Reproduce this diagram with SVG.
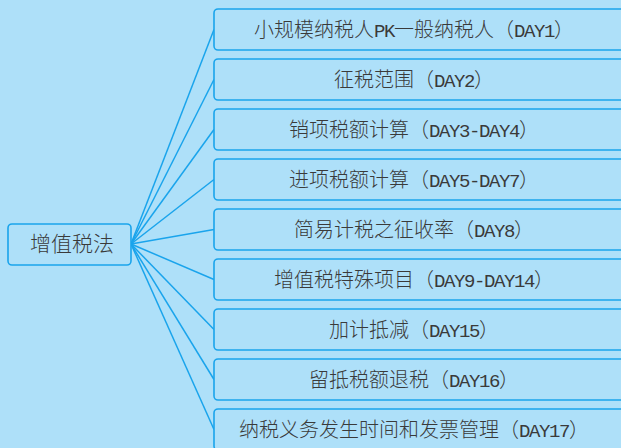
<svg xmlns="http://www.w3.org/2000/svg" width="621" height="448" viewBox="0 0 621 448">
<style>
.bg{fill:#aee0f9}
.box{fill:#aee0f9;stroke:#1aa4ec;stroke-width:1.6}
.ln{stroke:#1aa4ec;stroke-width:1.5;fill:none}
.t{font-family:"Noto Sans CJK SC","Noto Sans",sans-serif;font-size:20px;fill:#3a3a3a;text-anchor:middle;font-weight:300}
.l{font-family:"Liberation Mono",monospace;font-size:19px;letter-spacing:-1.4px;font-weight:normal}
</style>
<rect class="bg" x="0" y="0" width="621" height="448"/>
<g id="connectors">
<line class="ln" x1="131" y1="244" x2="214" y2="29.5"/>
<line class="ln" x1="131" y1="244" x2="214" y2="79.5"/>
<line class="ln" x1="131" y1="244" x2="214" y2="129.5"/>
<line class="ln" x1="131" y1="244" x2="214" y2="179.5"/>
<line class="ln" x1="131" y1="244" x2="214" y2="229.5"/>
<line class="ln" x1="131" y1="244" x2="214" y2="279.5"/>
<line class="ln" x1="131" y1="244" x2="214" y2="329.5"/>
<line class="ln" x1="131" y1="244" x2="214" y2="379.5"/>
<line class="ln" x1="131" y1="244" x2="214" y2="429.5"/>
</g>
<g id="root">
<rect class="box" x="8" y="224" width="123" height="41" rx="4"/>
<text class="t" x="72" y="251" style="font-size:21px">增值税法</text>
</g>
<g id="n1">
<rect class="box" x="214" y="9" width="440" height="41" rx="4"/>
<text class="t" x="414" y="37">小规模纳税人<tspan class="l">PK</tspan>一般纳税人（<tspan class="l">DAY1</tspan>）</text>
</g>
<g id="n2">
<rect class="box" x="214" y="59" width="440" height="41" rx="4"/>
<text class="t" x="414" y="87">征税范围（<tspan class="l">DAY2</tspan>）</text>
</g>
<g id="n3">
<rect class="box" x="214" y="109" width="440" height="41" rx="4"/>
<text class="t" x="414" y="137">销项税额计算（<tspan class="l">DAY3-DAY4</tspan>）</text>
</g>
<g id="n4">
<rect class="box" x="214" y="159" width="440" height="41" rx="4"/>
<text class="t" x="414" y="187">进项税额计算（<tspan class="l">DAY5-DAY7</tspan>）</text>
</g>
<g id="n5">
<rect class="box" x="214" y="209" width="440" height="41" rx="4"/>
<text class="t" x="414" y="237">简易计税之征收率（<tspan class="l">DAY8</tspan>）</text>
</g>
<g id="n6">
<rect class="box" x="214" y="259" width="440" height="41" rx="4"/>
<text class="t" x="414" y="287">增值税特殊项目（<tspan class="l">DAY9-DAY14</tspan>）</text>
</g>
<g id="n7">
<rect class="box" x="214" y="309" width="440" height="41" rx="4"/>
<text class="t" x="414" y="337">加计抵减（<tspan class="l">DAY15</tspan>）</text>
</g>
<g id="n8">
<rect class="box" x="214" y="359" width="440" height="41" rx="4"/>
<text class="t" x="414" y="387">留抵税额退税（<tspan class="l">DAY16</tspan>）</text>
</g>
<g id="n9">
<rect class="box" x="214" y="409" width="440" height="41" rx="4"/>
<text class="t" x="414" y="437">纳税义务发生时间和发票管理（<tspan class="l">DAY17</tspan>）</text>
</g>
</svg>
